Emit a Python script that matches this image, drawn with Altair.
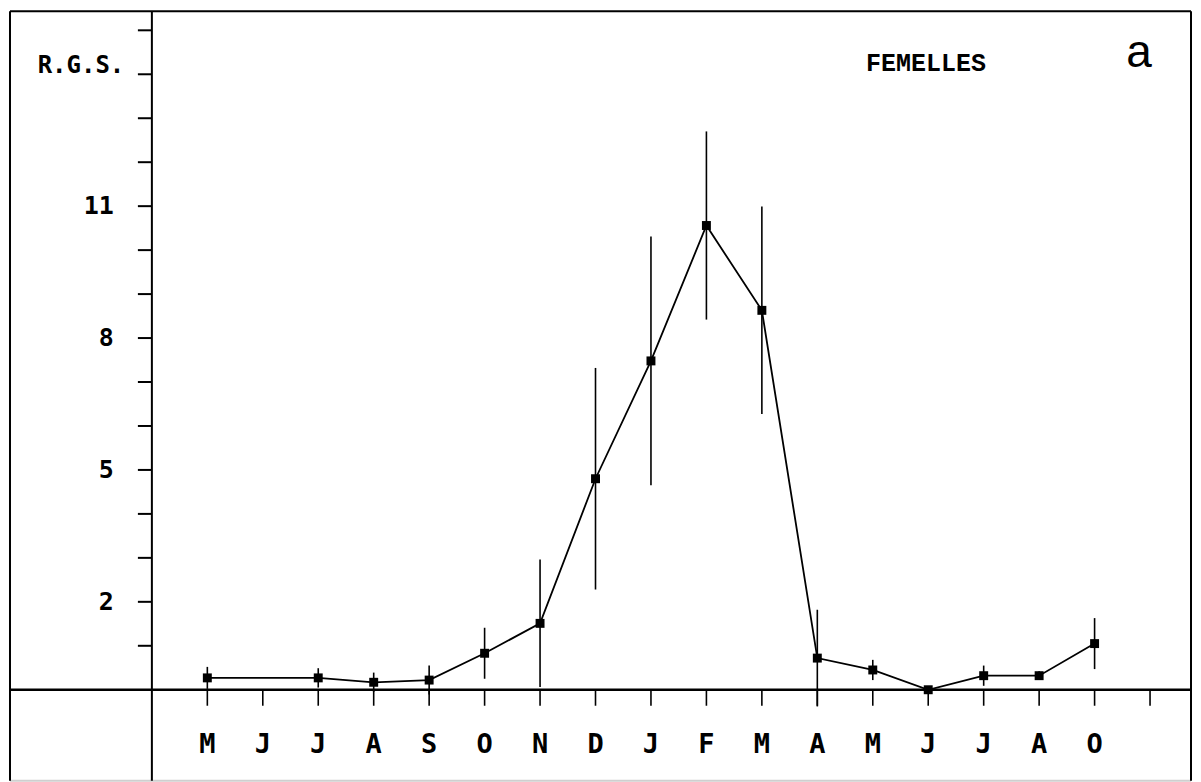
import altair as alt
import pandas as pd

# ---- data ----
tick_labels = ["M", "J", "J", "A", "S", "O", "N", "D", "J", "F", "M", "A", "M", "J", "J", "A", "O"]
tick_index = list(range(1, 18))          # month slots 1..17 (slot 18 is an unlabelled tick)
point_index = [1, 3, 4, 5, 6, 7, 8, 9, 10, 11, 12, 13, 14, 15, 16, 17]
rgs_mean = [0.27, 0.27, 0.17, 0.22, 0.83, 1.51, 4.80, 7.48, 10.56, 8.63, 0.72, 0.45, 0.0, 0.32, 0.32, 1.05]
rgs_err = [0.25, 0.22, 0.22, 0.33, 0.58, 1.45, 2.52, 2.83, 2.14, 2.36, 1.10, 0.23, 0.0, 0.23, 0.10, 0.58]
y_labels = [2, 5, 8, 11]
y_minor = list(range(1, 16))
x_minor = list(range(1, 19))

# ---- scales ----
XMIN, XMAX = -2.5586, 18.7387
YMIN, YMAX = -2.0682, 15.4318
xs = alt.Scale(domain=[XMIN, XMAX], nice=False, zero=False)
ys = alt.Scale(domain=[YMIN, YMAX], nice=False, zero=False)
X = lambda f: alt.X(f, scale=xs, axis=None)
Y = lambda f: alt.Y(f, scale=ys, axis=None)

W, H = 1182, 770

pts = pd.DataFrame({"x": point_index, "y": rgs_mean, "e": rgs_err})
pts["lo"] = pts["y"] - pts["e"]
pts["hi"] = pts["y"] + pts["e"]

base = alt.Chart(pts)

line = base.mark_line(color="black", strokeWidth=1.8).encode(x=X("x:Q"), y=Y("y:Q"))
errs = base.mark_rule(color="black", strokeWidth=1.6).encode(x=X("x:Q"), y=Y("lo:Q"), y2="hi:Q")
marks = base.mark_point(shape="square", filled=True, size=80, color="black", opacity=1).encode(
    x=X("x:Q"), y=Y("y:Q")
)

# frame (left, top, right black; bottom faint as in the scan)
hframe = alt.Chart(pd.DataFrame({"x": [XMIN, XMIN], "x2": [XMAX, XMAX], "y": [YMAX, YMIN],
                                 "c": ["black", "#cfcfcf"]})).mark_rule(strokeWidth=2).encode(
    x=X("x:Q"), x2="x2:Q", y=Y("y:Q"), color=alt.Color("c:N", scale=None)
)
vframe = alt.Chart(pd.DataFrame({"x": [XMIN, XMAX], "y": [YMIN, YMIN], "y2": [YMAX, YMAX]})).mark_rule(
    color="black", strokeWidth=2
).encode(x=X("x:Q"), y=Y("y:Q"), y2="y2:Q")

# axes drawn as rules in data space
xaxis = alt.Chart(pd.DataFrame({"x": [XMIN], "x2": [XMAX], "y": [0.0]})).mark_rule(
    color="black", strokeWidth=2.5
).encode(x=X("x:Q"), x2="x2:Q", y=Y("y:Q"))
yaxis = alt.Chart(pd.DataFrame({"x": [0.0], "y": [YMIN], "y2": [YMAX]})).mark_rule(
    color="black", strokeWidth=2
).encode(x=X("x:Q"), y=Y("y:Q"), y2="y2:Q")

YT_LEN = 14 / 55.5
XT_LEN = 16 / 44
ytick_df = pd.DataFrame({"y": y_minor})
ytick_df["x"] = -YT_LEN
ytick_df["x2"] = 0.0
yticks = alt.Chart(ytick_df).mark_rule(color="black", strokeWidth=2).encode(
    x=X("x:Q"), x2="x2:Q", y=Y("y:Q")
)
xtick_df = pd.DataFrame({"x": x_minor})
xtick_df["y"] = -XT_LEN
xtick_df["y2"] = 0.0
xticks = alt.Chart(xtick_df).mark_rule(color="black", strokeWidth=1.6).encode(
    x=X("x:Q"), y=Y("y:Q"), y2="y2:Q"
)

MONO = "DejaVu Sans Mono"
xlab_df = pd.DataFrame({"x": tick_index, "t": tick_labels})
xlab_df["y"] = -1.25
xlabels = alt.Chart(xlab_df).mark_text(
    font=MONO, fontWeight="bold", fontSize=27, align="center", baseline="middle", color="black"
).encode(x=X("x:Q"), y=Y("y:Q"), text="t:N")

ylab_df = pd.DataFrame({"y": y_labels, "t": [str(v) for v in y_labels]})
ylab_df["x"] = -0.685
ylabels = alt.Chart(ylab_df).mark_text(
    font=MONO, fontWeight="bold", fontSize=25, align="right", baseline="middle", color="black"
).encode(x=X("x:Q"), y=Y("y:Q"), text="t:N")

rgs = alt.Chart(pd.DataFrame({"x": [-1.279], "y": [14.18], "t": ["R.G.S."]})).mark_text(
    font=MONO, fontWeight="bold", fontSize=24, align="center", baseline="middle", color="black"
).encode(x=X("x:Q"), y=Y("y:Q"), text="t:N")

fem = alt.Chart(pd.DataFrame({"x": [13.96], "y": [14.25], "t": ["FEMELLES"]})).mark_text(
    font="Liberation Mono", fontWeight="bold", fontSize=25, align="center", baseline="middle", color="black"
).encode(x=X("x:Q"), y=Y("y:Q"), text="t:N")

alab = alt.Chart(pd.DataFrame({"x": [17.80], "y": [14.48], "t": ["a"]})).mark_text(
    font="Liberation Sans", fontSize=46, align="center", baseline="middle", color="black"
).encode(x=X("x:Q"), y=Y("y:Q"), text="t:N")

chart = alt.layer(
    hframe, vframe, xaxis, yaxis, yticks, xticks, errs, line, marks, xlabels, ylabels, rgs, fem, alab
).properties(
    width=W, height=H, background="white",
    padding={"left": 0, "top": 2, "right": 0, "bottom": 0}
).configure_view(
    stroke=None
)

chart.save("out.html", embed_options={"renderer": "svg", "actions": False})
